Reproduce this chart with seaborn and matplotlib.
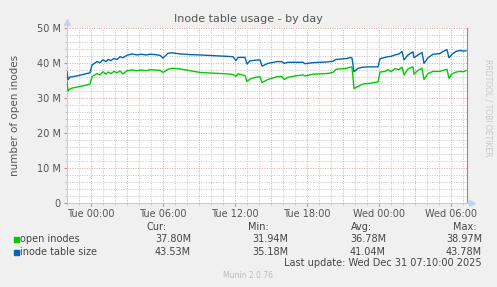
import matplotlib
matplotlib.use("Agg")
import matplotlib.pyplot as plt
import matplotlib.ticker as mticker
import numpy as np
import pandas as pd
import seaborn as sns

# minutes relative to Tue 00:00
minutes = [-120, -115, -105, -90, -55, -20, -5, 5, 30, 45, 60, 75, 85, 100, 115, 130, 145, 160,
           180, 205, 230, 250, 275, 295, 320, 345, 360, 385, 405, 445, 495, 545, 610, 680, 710,
           725, 735, 770, 780, 795, 820, 845, 855, 885, 930, 955, 965, 985, 1020, 1060, 1070,
           1110, 1180, 1210, 1225, 1280, 1300, 1305, 1315, 1335, 1360, 1395, 1435, 1445, 1470,
           1485, 1500, 1520, 1540, 1555, 1565, 1585, 1610, 1615, 1635, 1655, 1665, 1685, 1710,
           1745, 1760, 1780, 1790, 1805, 1825, 1845, 1860, 1875]
table_size = [37.5, 35.2, 36.0, 36.1, 36.5, 37.0, 37.2, 39.4, 40.4, 40.1, 40.9, 40.4, 41.0, 40.7,
              41.3, 41.0, 41.8, 41.5, 42.2, 42.6, 42.3, 42.5, 42.3, 42.5, 42.4, 42.2, 41.4, 42.8,
              42.9, 42.6, 42.4, 42.3, 42.1, 41.9, 41.8, 40.7, 41.6, 41.6, 39.7, 40.6, 40.8, 40.9,
              39.1, 39.9, 40.4, 40.4, 39.9, 40.2, 40.2, 40.2, 39.8, 40.1, 40.3, 40.5, 41.0, 41.3,
              41.6, 41.4, 37.5, 38.5, 38.8, 38.9, 38.9, 41.2, 41.6, 41.8, 41.9, 42.3, 42.6, 43.3,
              40.9, 42.3, 43.2, 41.5, 42.3, 43.0, 39.9, 41.5, 42.5, 42.7, 43.3, 43.8, 41.5, 42.5,
              43.3, 43.6, 43.4, 43.5]
open_inodes = [34.7, 32.0, 32.6, 32.9, 33.3, 33.7, 34.0, 36.1, 37.0, 36.6, 37.5, 36.8, 37.4, 37.0,
               37.6, 37.2, 37.7, 36.9, 37.8, 38.0, 37.8, 38.0, 37.8, 38.1, 38.0, 37.9, 37.3, 38.2,
               38.5, 38.3, 37.8, 37.3, 37.1, 36.9, 36.7, 36.2, 36.9, 36.4, 34.7, 35.4, 35.9, 36.1,
               34.4, 35.3, 36.1, 36.1, 35.3, 35.9, 36.3, 36.6, 36.3, 36.8, 37.0, 37.3, 38.2, 38.5,
               38.9, 38.7, 32.7, 33.3, 34.0, 34.2, 34.6, 37.4, 37.6, 38.1, 37.5, 38.4, 38.1, 38.8,
               36.6, 38.3, 38.9, 36.8, 37.9, 38.5, 35.3, 37.0, 37.6, 37.6, 37.9, 38.2, 35.6, 36.9,
               37.4, 37.6, 37.5, 37.8]

series_names = ["open inodes", "inode table size"]
series_colors = ["#00CC00", "#0066B3"]
stats_cur = ["37.80M", "43.53M"]
stats_min = ["31.94M", "35.18M"]
stats_avg = ["36.78M", "41.04M"]
stats_max = ["38.97M", "43.78M"]
x_tick_pos = [0, 360, 720, 1080, 1440, 1800]
x_tick_labels = ["Tue 00:00", "Tue 06:00", "Tue 12:00", "Tue 18:00", "Wed 00:00", "Wed 06:00"]
y_ticks = [0, 10, 20, 30, 40, 50]
y_tick_labels = ["0", "10 M", "20 M", "30 M", "40 M", "50 M"]

df = pd.concat([
    pd.DataFrame({"t": minutes, "v": open_inodes, "s": series_names[0]}),
    pd.DataFrame({"t": minutes, "v": table_size, "s": series_names[1]}),
])

W, H = 497, 287
fig = plt.figure(figsize=(W / 100, H / 100), dpi=100, facecolor="#F0F0F0")
ax = fig.add_axes([67 / W, 1 - 203 / H, 400 / W, 175 / H])
ax.set_facecolor("white")

x0, x1 = -120, 1880
ax.set_xlim(x0, x1)
ax.set_ylim(0, 50)

# grid
for m in range(-120, x1 + 1, 60):
    major = (m % 180 == 0)
    ax.axvline(m, color="#E0A0A0" if major else "#C4C4C4", lw=0.7,
               ls=(0, (1, 1.5)), zorder=0)
for v in np.arange(0, 50.1, 2):
    major = (abs(v % 10) < 1e-6)
    ax.axhline(v, color="#E0A0A0" if major else "#C4C4C4", lw=0.7,
               ls=(0, (1, 1.5)), zorder=0)

sns.lineplot(data=df, x="t", y="v", hue="s", palette=dict(zip(series_names, series_colors)),
             ax=ax, lw=1.0, legend=False, zorder=3)

ax.set_xticks(x_tick_pos)
ax.set_xticklabels(x_tick_labels)
ax.set_yticks(y_ticks)
ax.set_yticklabels(y_tick_labels)
ax.xaxis.set_minor_locator(mticker.MultipleLocator(60))
ax.yaxis.set_minor_locator(mticker.MultipleLocator(2))
ax.tick_params(axis="both", which="major", length=2.5, color="#E08080", labelsize=7,
               labelcolor="#555555", pad=2)
ax.tick_params(axis="both", which="minor", length=1.5, color="#BBBBBB")
ax.set_xlabel("")
ax.set_ylabel("number of open inodes", fontsize=7.5, color="#555555", labelpad=12)

ax.spines["top"].set_visible(False)
ax.spines["left"].set_color("#C8C8F0")
ax.spines["bottom"].set_color("#C8C8F0")
ax.spines["right"].set_color("#909090")
for s in ["left", "bottom", "right"]:
    ax.spines[s].set_linewidth(0.8)

# axis arrows
ax.plot([0], [1.035], marker="^", ms=4, color="#C8D0F8", transform=ax.transAxes,
        clip_on=False)
ax.plot([1.012], [0], marker=">", ms=4, color="#C8D0F8", transform=ax.transAxes,
        clip_on=False)
ax.plot([0, 0], [1.0, 1.035], color="#C8C8F0", lw=0.8, transform=ax.transAxes, clip_on=False)
ax.plot([1.0, 1.012], [0, 0], color="#C8C8F0", lw=0.8, transform=ax.transAxes, clip_on=False)


def px(x, y):
    return x / W, 1 - y / H


fig.text(*px(248, 19), "Inode table usage - by day", ha="center", va="center",
         fontsize=8, color="#555555")
fig.text(*px(488, 108), "RRDTOOL / TOBI OETIKER", ha="center", va="center", rotation=270,
         fontsize=5.5, color="#C8C8C8")

fs = 7
tc = "#444444"
fig.text(*px(167, 227), "Cur:", ha="right", va="center", fontsize=fs, color=tc)
fig.text(*px(269, 227), "Min:", ha="right", va="center", fontsize=fs, color=tc)
fig.text(*px(372, 227), "Avg:", ha="right", va="center", fontsize=fs, color=tc)
fig.text(*px(477, 227), "Max:", ha="right", va="center", fontsize=fs, color=tc)

rows_y = [239, 252]
for i in range(2):
    y = rows_y[i]
    fig.patches.append(plt.Rectangle(px(14, y + 3), 5 / W, 5 / H, color=series_colors[i],
                                     transform=fig.transFigure, figure=fig))
    fig.text(*px(20, y), series_names[i], ha="left", va="center", fontsize=fs, color=tc)
    fig.text(*px(191, y), stats_cur[i], ha="right", va="center", fontsize=fs, color=tc)
    fig.text(*px(288, y), stats_min[i], ha="right", va="center", fontsize=fs, color=tc)
    fig.text(*px(386, y), stats_avg[i], ha="right", va="center", fontsize=fs, color=tc)
    fig.text(*px(482, y), stats_max[i], ha="right", va="center", fontsize=fs, color=tc)

fig.text(*px(482, 263), "Last update: Wed Dec 31 07:10:00 2025", ha="right", va="center",
         fontsize=fs, color=tc)
fig.text(*px(248, 275), "Munin 2.0.76", ha="center", va="center", fontsize=5.5,
         color="#BBBBBB")

fig.savefig("out.png", dpi=100, facecolor=fig.get_facecolor())
